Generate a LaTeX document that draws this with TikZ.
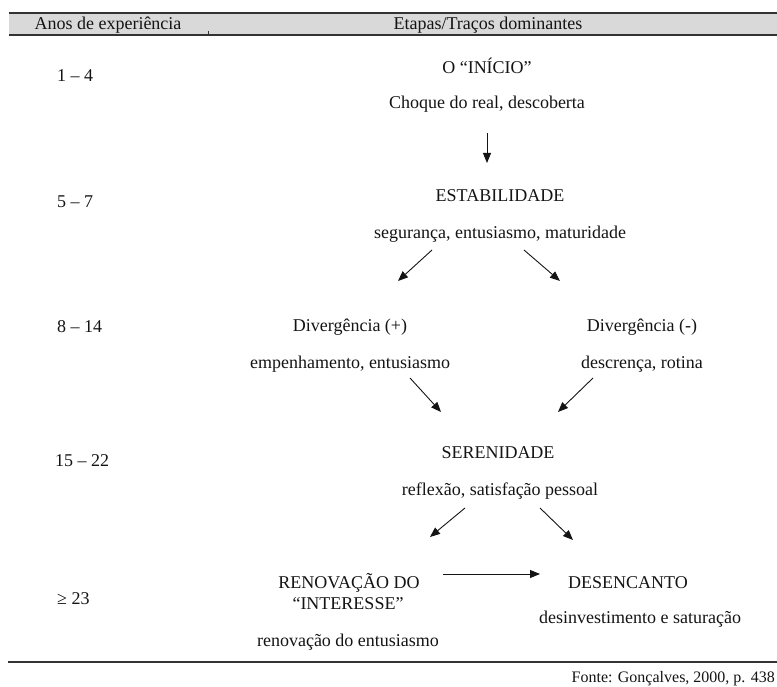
\documentclass[tikz,border=0pt]{standalone}
\usepackage{fontspec}
\setmainfont{Liberation Serif}
\usetikzlibrary{arrows.meta}

\definecolor{rulegray}{HTML}{333333}
\definecolor{headfill}{HTML}{D9D9D9}
\definecolor{inkgray}{HTML}{141414}

\begin{document}
\begin{tikzpicture}[x=1pt,y=-1pt,
  txt/.style={inner sep=0pt, anchor=base, text=inkgray, font=\fontsize{18}{22}\selectfont},
  yrs/.style={txt, anchor=base west},
  src/.style={inner sep=0pt, anchor=base east, text=inkgray, font=\fontsize{16}{19}\selectfont},
  flow/.style={draw=inkgray, line width=0.9pt, -{Triangle[length=10pt,width=8pt]}},
  rule/.style={draw=rulegray, line width=2.2pt}]

\useasboundingbox (0,0) rectangle (777,687);

% table header band
\fill[headfill] (9,13) rectangle (777,35);
\draw[rule] (9,13) -- (777,13);
\draw[rule] (9,35) -- (777,35);
\draw[rulegray, line width=1pt] (208,31) -- (208,35);
\node[txt] (hyears) at (108,30) {Anos de experiência};
\node[txt] (hstages) at (488,30) {Etapas/Traços dominantes};

% years column
\node[yrs] (y1) at (57,82) {1 – 4};
\node[yrs] (y2) at (57,208) {5 – 7};
\node[yrs] (y3) at (57,333) {8 – 14};
\node[yrs] (y4) at (55,466) {15 – 22};
\node[yrs] (y5) at (57,604) {≥ 23};

% stages
\node[txt] (inicio) at (487,74) {O “INÍCIO”};
\node[txt] (choque) at (487,109) {Choque do real, descoberta};

\node[txt] (estab) at (500,202) {ESTABILIDADE};
\node[txt] (seg) at (500,239) {segurança, entusiasmo, maturidade};

\node[txt] (divp) at (350,331) {Divergência (+)};
\node[txt] (emp) at (350,368) {empenhamento, entusiasmo};
\node[txt] (divm) at (642,331) {Divergência (-)};
\node[txt] (desc) at (642,368) {descrença, rotina};

\node[txt] (seren) at (498,458) {SERENIDADE};
\node[txt] (refl) at (500,495) {reflexão, satisfação pessoal};

\node[txt] (renov) at (349,588) {RENOVAÇÃO DO};
\node[txt] (inter) at (348,609) {“INTERESSE”};
\node[txt] (renent) at (348,646) {renovação do entusiasmo};
\node[txt] (desenc) at (628,588) {DESENCANTO};
\node[txt] (desinv) at (640,623) {desinvestimento e saturação};

% arrow end points
\coordinate (c1s) at (487,133); \coordinate (c1e) at (487,163);
\coordinate (e1s) at (432,250); \coordinate (e1e) at (398,281);
\coordinate (e2s) at (524,250); \coordinate (e2e) at (560,281);
\coordinate (d1s) at (410,378); \coordinate (d1e) at (441,412);
\coordinate (d2s) at (593,378); \coordinate (d2e) at (558,412);
\coordinate (s1s) at (465,508); \coordinate (s1e) at (430,537);
\coordinate (s2s) at (540,508); \coordinate (s2e) at (573,540);
\coordinate (r1s) at (443,574); \coordinate (r1e) at (540,574);

\draw[flow] (c1s) -- (c1e);
\draw[flow] (e1s) -- (e1e);
\draw[flow] (e2s) -- (e2e);
\draw[flow] (d1s) -- (d1e);
\draw[flow] (d2s) -- (d2e);
\draw[flow] (s1s) -- (s1e);
\draw[flow] (s2s) -- (s2e);
\draw[flow] (r1s) -- (r1e);

% closing rule and source
\draw[rule] (8,662) -- (777,662);
\node[src] (fonte) at (775,682) {Fonte: Gonçalves, 2000, p. 438};

\end{tikzpicture}
\end{document}
